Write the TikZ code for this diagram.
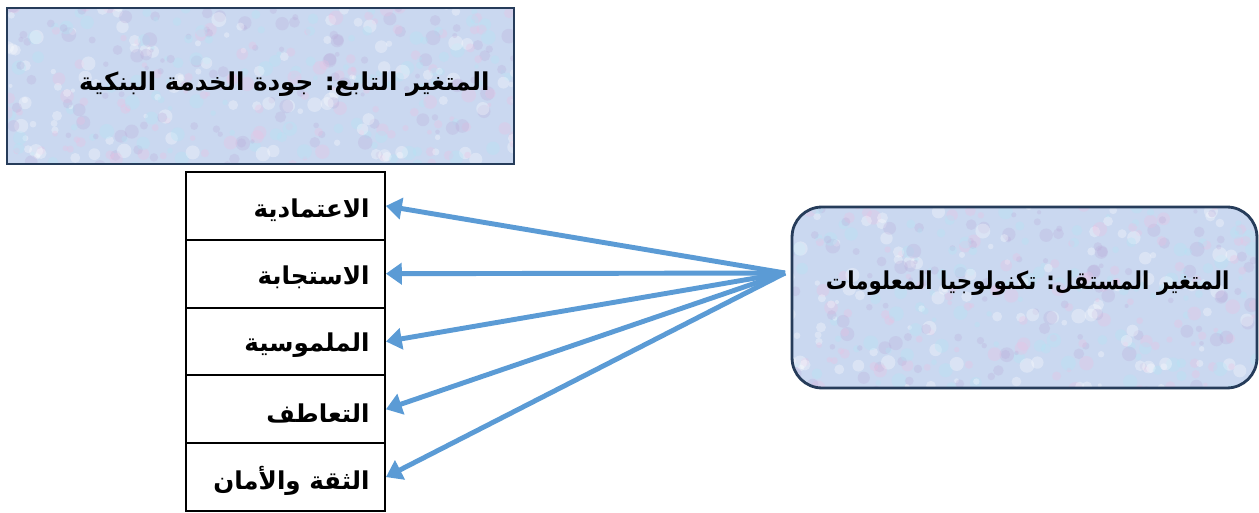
\documentclass[tikz,border=0pt]{standalone}
\usepackage{graphicx}
\usepackage{fontspec}
\newfontfamily\arabicfont[Script=Arabic]{DejaVu Sans}
\TeXXeTstate=1
\usetikzlibrary{arrows.meta,positioning}

\definecolor{linkblue}{RGB}{91,155,213}
\definecolor{frameblue}{RGB}{38,60,90}
\definecolor{paperblue}{RGB}{202,216,240}
\definecolor{paperpink}{RGB}{236,192,226}
\definecolor{papercyan}{RGB}{176,230,246}

% arabic label, bold, right to left
\newcommand{\ar}[1]{{\arabicfont\bfseries\beginR #1\endR}}

% mottled paper texture inside a node
\newcommand{\mottle}{%
  \pgfmathsetseed{11}%
  \foreach \k in {1,...,520}{%
    \pgfmathsetmacro{\mx}{rand*5.3}%
    \pgfmathsetmacro{\my}{rand*1.9}%
    \pgfmathsetmacro{\mr}{0.04+0.11*rnd}%
    \pgfmathtruncatemacro{\mc}{mod(\k,4)}%
    \ifcase\mc \def\mcol{paperpink}\or \def\mcol{papercyan}\or \def\mcol{white}\or \def\mcol{paperblue!80!violet}\fi
    \fill[\mcol,opacity=0.3] ([shift={(\mx cm,\my cm)}]path picture bounding box.center) circle (\mr cm);
  }}

\tikzset{
  varbox/.style={draw=frameblue,line width=1.6pt,fill=paperblue,path picture={\mottle}},
  dimcell/.style={draw,line width=1.1pt,minimum width=3.98cm,minimum height=1.356cm,inner sep=0pt},
  link/.style={linkblue,line width=2.8pt,-{Triangle[length=9pt,width=12pt]}},
  lbl/.style={anchor=east,inner sep=0pt,font=\fontsize{14}{16}\selectfont},
}

\begin{document}
\begin{tikzpicture}[x=0.02cm,y=-0.02cm]
\useasboundingbox (0,0) rectangle (1259,513);
% dependent variable
\node[varbox,minimum width=10.14cm,minimum height=3.12cm] (dep) at (260.5,86) {};
\node[lbl] (deplbl) at (490,84) {\ar{المتغير التابع: جودة الخدمة البنكية}};
% independent variable
\node[varbox,rounded corners=0.6cm,minimum width=9.3cm,minimum height=3.62cm] (ind) at (1024.5,297.5) {};
\node[lbl] (indlbl) at (1230,283) {\scalebox{0.87}[1]{\ar{المتغير المستقل: تكنولوجيا المعلومات}}};
% dimensions
\foreach \name [count=\i] in {الاعتمادية,الاستجابة,الملموسية,التعاطف,الثقة والأمان}{
  \node[dimcell] (r\i) at (285.5,138.1+67.8*\i) {};
  \node[lbl] (t\i) at (370,142+67.8*\i) {\ar{\name}};
}
\coordinate (src) at (785,273);
\foreach \i in {1,...,5}{
  \draw[link] (src) -- (r\i.east);
}
\end{tikzpicture}
\end{document}
